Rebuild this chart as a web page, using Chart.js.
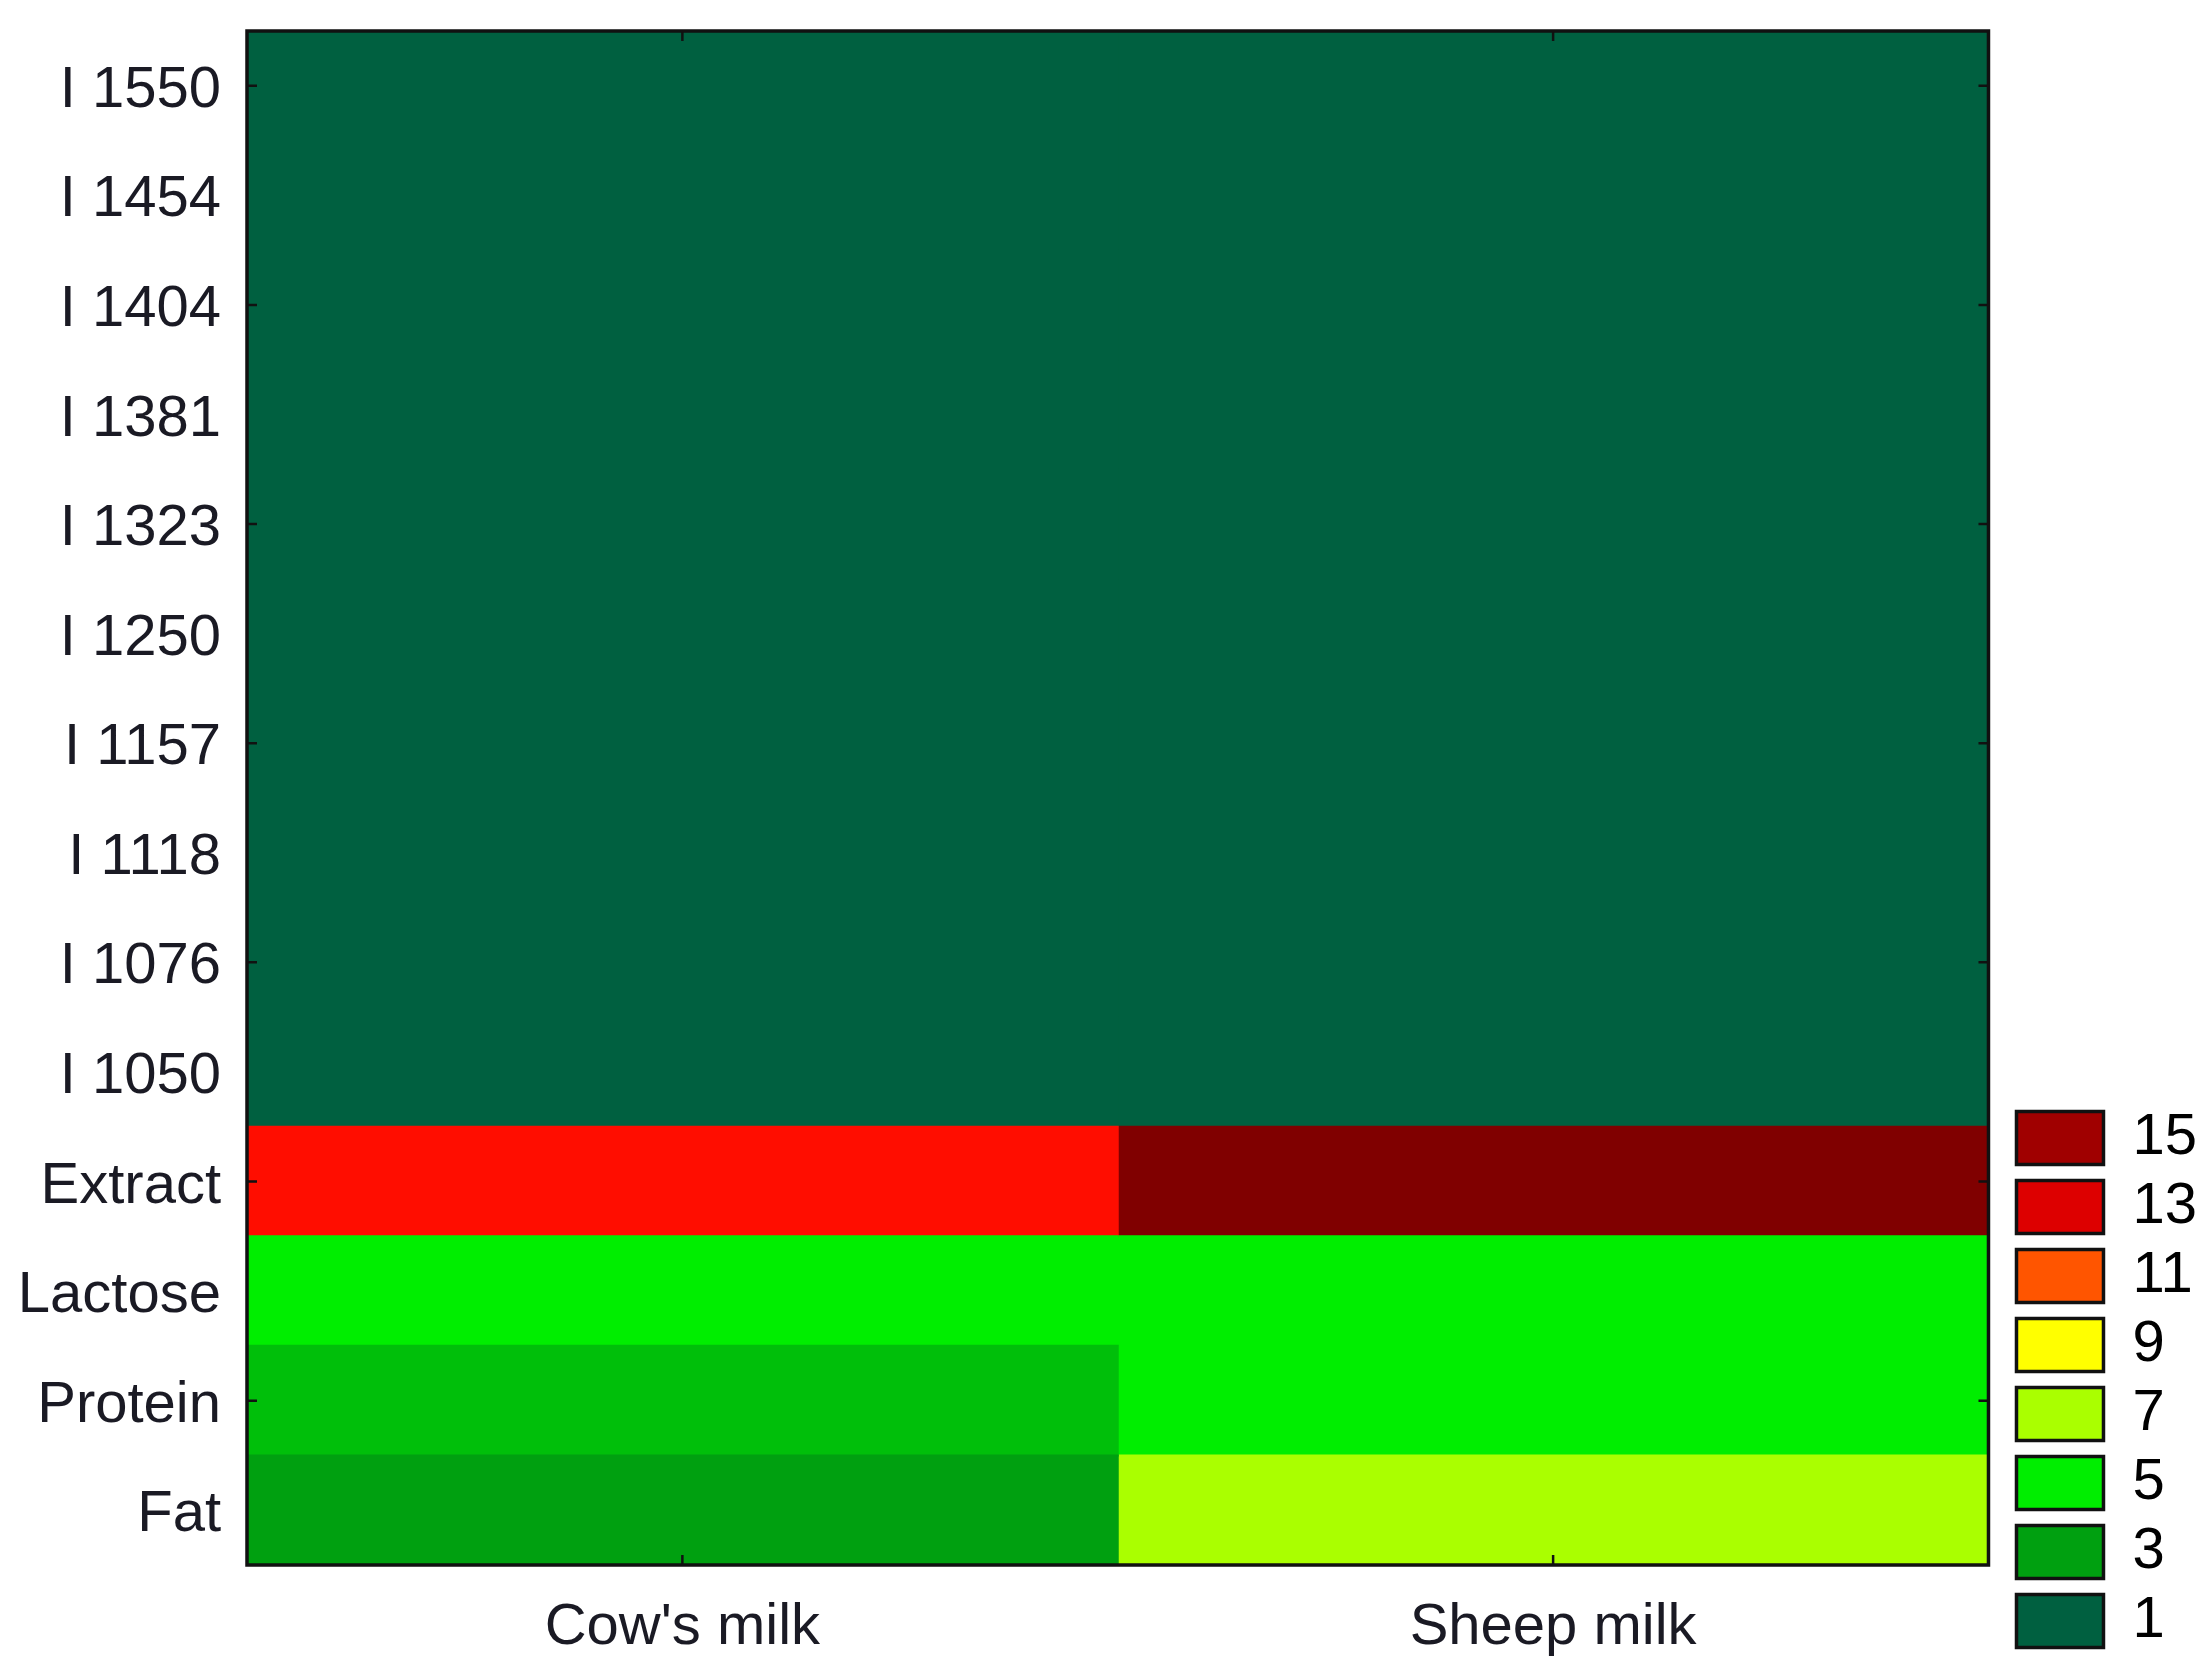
<!DOCTYPE html>
<html>
<head>
<meta charset="utf-8">
<script src="https://cdn.jsdelivr.net/npm/chart.js@4/dist/chart.umd.min.js"></script>
<style>
  html, body { margin: 0; padding: 0; background: #fff; }
  canvas { display: block; }
</style>
</head>
<body>
<canvas id="heatChart" width="2211" height="1676"></canvas>
<script>
// ==================== DATA ====================
const rowLabels = ['I 1550', 'I 1454', 'I 1404', 'I 1381', 'I 1323', 'I 1250', 'I 1157',
  'I 1118', 'I 1076', 'I 1050', 'Extract', 'Lactose', 'Protein', 'Fat'];
const columns = ["Cow's milk", 'Sheep milk'];
const cowValues = [0.5, 0.5, 0.5, 0.5, 0.5, 0.5, 0.5, 0.5, 0.5, 0.5, 12.0, 5.0, 3.8, 3.0];
const sheepValues = [0.5, 0.5, 0.5, 0.5, 0.5, 0.5, 0.5, 0.5, 0.5, 0.5, 17.5, 5.0, 5.0, 7.0];
const legendLevels = [15, 13, 11, 9, 7, 5, 3, 1];

// colour scale (value -> colour)
const colourStops = [
  [1, '#006040'], [3, '#00a010'], [5, '#00ee00'], [7, '#aaff00'], [9, '#ffff00'],
  [11, '#ff5500'], [12, '#ff0d00'], [13, '#dd0000'], [15, '#a00000'], [17, '#800000']
];

const textColour = '#1a1a24';
const fontFamily = "'Liberation Sans', Arial, sans-serif";
const fontSize = 58;

function hexToRgb(h) {
  return [parseInt(h.slice(1, 3), 16), parseInt(h.slice(3, 5), 16), parseInt(h.slice(5, 7), 16)];
}

function colourFor(v) {
  if (v <= colourStops[0][0]) return colourStops[0][1];
  const last = colourStops[colourStops.length - 1];
  if (v >= last[0]) return last[1];
  for (let i = 1; i < colourStops.length; i++) {
    const [v1, c1] = colourStops[i];
    if (v <= v1) {
      const [v0, c0] = colourStops[i - 1];
      const t = (v - v0) / (v1 - v0);
      const a = hexToRgb(c0), b = hexToRgb(c1);
      const rgb = a.map((x, k) => Math.round(x + (b[k] - x) * t));
      return `rgb(${rgb.join(',')})`;
    }
  }
  return last[1];
}

// frame round the plot + small inner ticks, like the original
const framePlugin = {
  id: 'frame',
  afterDatasetsDraw(chart) {
    const { ctx, chartArea: a, scales: { x, y } } = chart;
    ctx.save();
    ctx.strokeStyle = '#111';
    ctx.lineWidth = 2.5;
    ctx.beginPath();
    y.ticks.forEach((t, i) => {
      if (i % 2) return;
      const py = y.getPixelForTick(i);
      ctx.moveTo(a.left, py); ctx.lineTo(a.left + 10, py);
      ctx.moveTo(a.right, py); ctx.lineTo(a.right - 10, py);
    });
    x.ticks.forEach((t, i) => {
      const px = x.getPixelForTick(i);
      ctx.moveTo(px, a.bottom); ctx.lineTo(px, a.bottom - 10);
      ctx.moveTo(px, a.top); ctx.lineTo(px, a.top + 10);
    });
    ctx.stroke();
    ctx.lineWidth = 3.5;
    ctx.strokeRect(a.left, a.top, a.right - a.left, a.bottom - a.top);
    ctx.restore();
  }
};

const cellWidth = () => 1;
const noPad = (s) => { s.paddingTop = 0; s.paddingBottom = 0; s.paddingLeft = 0; s.paddingRight = 0; };

new Chart(document.getElementById('heatChart'), {
  type: 'bar',
  data: {
    labels: rowLabels,
    datasets: [
      {
        label: columns[0],
        data: cowValues.map(cellWidth),
        backgroundColor: cowValues.map(colourFor),
        borderWidth: 0,
        inflateAmount: 1
      },
      {
        label: columns[1],
        data: sheepValues.map(cellWidth),
        backgroundColor: sheepValues.map(colourFor),
        borderWidth: 0,
        inflateAmount: 1
      }
    ]
  },
  options: {
    indexAxis: 'y',
    responsive: false,
    animation: false,
    layout: { padding: { left: 20, top: 31, right: 4, bottom: 15 } },
    datasets: { bar: { barPercentage: 1, categoryPercentage: 1 } },
    scales: {
      x: {
        type: 'linear',
        stacked: true,
        min: 0,
        max: 2,
        afterBuildTicks: (scale) => { scale.ticks = columns.map((c, i) => ({ value: i + 0.5 })); },
        afterFit: (s) => { noPad(s); s.height = 96; },
        grid: { display: false, drawTicks: false },
        border: { display: false },
        ticks: {
          padding: 28,
          color: textColour,
          font: { family: fontFamily, size: fontSize },
          callback: (v, i) => columns[i]
        }
      },
      y: {
        stacked: true,
        afterFit: (s) => { noPad(s); s.width = 227; },
        grid: { display: false, drawTicks: false },
        border: { display: false },
        ticks: {
          padding: 26,
          labelOffset: 5,
          color: textColour,
          font: { family: fontFamily, size: fontSize }
        }
      },
      gap: {
        type: 'category',
        position: 'right',
        afterFit: (s) => { noPad(s); s.width = 17; },
        grid: { display: false, drawTicks: false },
        border: { display: false },
        ticks: { display: false }
      }
    },
    plugins: {
      tooltip: { enabled: false },
      legend: {
        position: 'right',
        align: 'end',
        onClick: null,
        labels: {
          boxWidth: 87,
          boxHeight: 53,
          padding: 11,
          color: textColour,
          font: { family: fontFamily, size: fontSize },
          generateLabels: () => legendLevels.map(l => ({
            text: String(l),
            fillStyle: colourFor(l),
            strokeStyle: '#111',
            lineWidth: 3.5,
            hidden: false
          }))
        }
      }
    }
  },
  plugins: [framePlugin]
});
</script>
</body>
</html>
